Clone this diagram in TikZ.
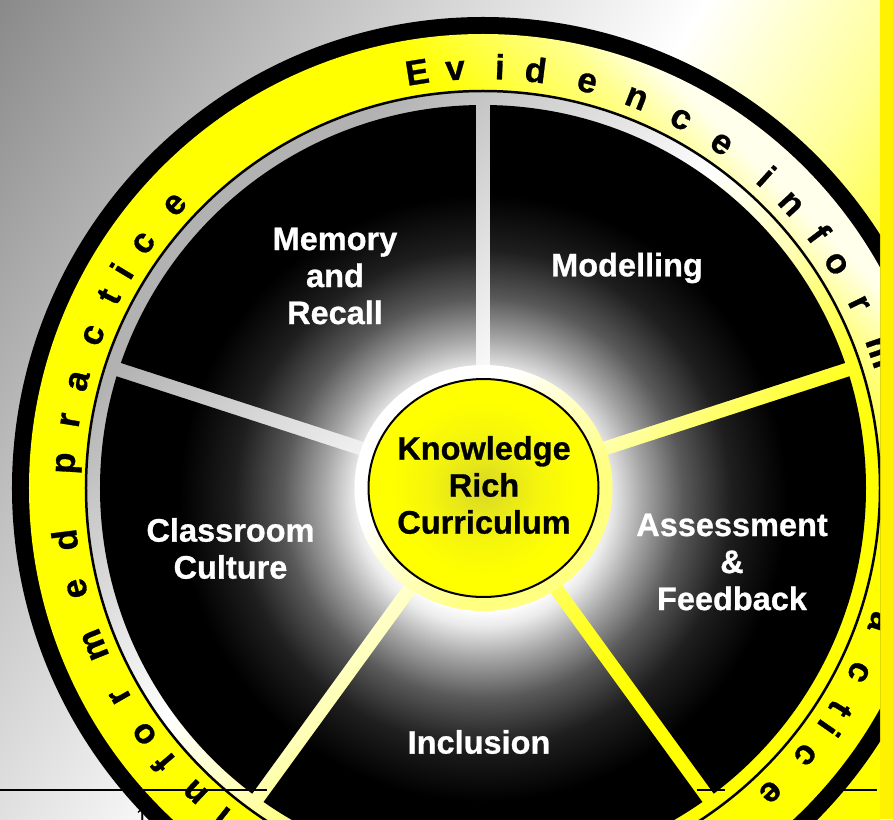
\documentclass[tikz,border=0pt]{standalone}
\usepackage{fontspec}
\setmainfont{Liberation Sans}
\newfontfamily\heavyfont{Liberation Sans Bold}[FakeBold=0.8]

% colour stops
\definecolor{bgA}{gray}{0.54}
\definecolor{bgB}{gray}{0.86}
\definecolor{paleY}{rgb}{1,1,0.6}
\definecolor{warmY}{rgb}{1,1,0.2}
\definecolor{rimA}{gray}{0.70}
\definecolor{rimB}{gray}{0.78}
\definecolor{rimC}{rgb}{1,1,0.7}
\definecolor{rimD}{rgb}{1,1,0.15}
\definecolor{bandA}{rgb}{1,1,0.55}
\definecolor{bandB}{rgb}{1,1,0.92}
\definecolor{glowA}{gray}{0.92}
\definecolor{glowB}{gray}{0.65}
\definecolor{glowC}{gray}{0.35}
\definecolor{glowD}{gray}{0.12}
\definecolor{hubA}{rgb}{0.85,0.85,0.15}
\definecolor{hubB}{rgb}{0.96,0.96,0.05}
\definecolor{hubrimY}{rgb}{1,1,0.5}

% linear shadings, laid along the x axis of a rotated canvas
\pgfdeclarehorizontalshading{bgshade}{100bp}{color(0bp)=(bgA); color(33.3bp)=(bgA); color(43.5bp)=(bgB); color(48.3bp)=(white); color(52.8bp)=(paleY); color(55.8bp)=(warmY); color(60bp)=(yellow); color(100bp)=(yellow)}
\pgfdeclarehorizontalshading{rimshade}{100bp}{color(0bp)=(rimA); color(35.8bp)=(rimA); color(38.8bp)=(rimB); color(47.5bp)=(white); color(52.1bp)=(rimC); color(57.1bp)=(rimD); color(60.4bp)=(yellow); color(100bp)=(yellow)}
\pgfdeclarehorizontalshading{bandshade}{100bp}{color(0bp)=(yellow); color(60.5bp)=(yellow); color(65.5bp)=(bandA); color(67.6bp)=(bandB); color(100bp)=(bandB)}
\pgfdeclarehorizontalshading{hubrimshade}{100bp}{color(0bp)=(white); color(40bp)=(white); color(62bp)=(hubrimY); color(100bp)=(hubrimY)}
% radial shadings
\pgfdeclareradialshading{glow}{\pgfpoint{0bp}{0bp}}{color(0bp)=(white); color(7bp)=(white); color(8bp)=(glowA); color(10bp)=(glowB); color(12.5bp)=(glowC); color(15.5bp)=(glowD); color(19bp)=(black); color(50bp)=(black)}
\pgfdeclareradialshading{hubfill}{\pgfpoint{0bp}{0bp}}{color(0bp)=(hubA); color(12bp)=(hubB); color(20bp)=(yellow); color(50bp)=(yellow)}

\begin{document}
\begin{tikzpicture}[x=1pt,y=1pt,
  ringletter/.style={anchor=base, inner sep=0pt, font=\fontsize{35}{35}\selectfont\heavyfont},
  sectorlabel/.style={align=center, text=white, inner sep=0pt, font=\fontsize{32.5}{37}\selectfont\heavyfont},
  hublabel/.style={align=center, text=black, inner sep=0pt, font=\fontsize{32.5}{37}\selectfont\heavyfont},
  footline/.style={line width=2pt, draw=black}]
\useasboundingbox (-483,-331) rectangle (410,488);

% page background
\begin{scope}
  \clip (-483,-331) rectangle (397,488);
  \begin{scope}[transform canvas={rotate=-32}]
    \shade[shading=bgshade] (-1000,-1000) rectangle (1000,1000);
  \end{scope}
\end{scope}
\fill[yellow] (397,-331) rectangle (410,488);

% the wheel
\begin{scope}
  \clip (-483,-331) rectangle (397,488);
  \fill[black] (0,0) circle (471);
  % lettered band
  \begin{scope}
    \clip (0,0) circle (454);
    \begin{scope}[transform canvas={rotate=45}]
      \shade[shading=bandshade] (-600,-600) rectangle (600,600);
    \end{scope}
  \end{scope}
  % rim and spokes
  \begin{scope}
    \clip (0,0) circle (396);
    \begin{scope}[transform canvas={rotate=-45}]
      \shade[shading=rimshade] (-600,-600) rectangle (600,600);
    \end{scope}
  \end{scope}
  \draw[black, line width=2.5pt] (0,0) circle (397);
  % five dark sectors with a glow towards the hub
  \foreach \a in {18,90,162,234,306} {
    \begin{scope}
      \clip (0,0) circle (383);
      \clip ({\a+36}:12) -- ({\a+0.67}:600) -- ({\a+36}:800) -- ({\a+71.33}:600) -- cycle;
      \shade[shading=glow] (0,-10) circle (400);
    \end{scope}
  }
  % hub
  \begin{scope}
    \clip (0.5,0) ellipse [x radius=129, y radius=123];
    \begin{scope}[transform canvas={rotate=-45}]
      \shade[shading=hubrimshade] (-150,-150) rectangle (150,150);
    \end{scope}
  \end{scope}
  \shadedraw[shading=hubfill, draw=black, line width=2pt] (0.5,0) ellipse [x radius=115, y radius=109];

  % lettering round the band
  \foreach \ch/\ang [count=\k] in {E/99.0, v/93.8, i/87.7, d/82.8, e/75.6, n/68.5, c/61.8, e/55.3,
      i/47.7, n/42.7, f/37.1, o/32.4, r/26.1, m/18.9,
      a/-18.7, c/-26.1, t/-31.7, i/-34.8, c/-39.6, e/-46.6,
      i/231.5, n/226.6, f/220.7, o/216.0, r/209.8, m/202.0, e/193.9, d/187.1,
      p/176.6, r/170.7, a/165.2, c/158.6, t/152.9, i/149.0, c/144.2, e/137.4}
    \node[ringletter, rotate=\ang-90] (ring\k) at (\ang:409) {\ch};
\end{scope}

% sector labels
\node[sectorlabel] (memory) at (-148,212) {Memory\\and\\Recall};
\node[sectorlabel] (modelling) at (144,220) {Modelling};
\node[sectorlabel] (classroom) at (-252.5,-60.5) {Classroom\\Culture};
\node[sectorlabel] (assessment) at (249,-74) {Assessment\\\&\\Feedback};
\node[sectorlabel] (inclusion) at (-4,-254) {Inclusion};
\node[hublabel] (hub) at (1,3) {Knowledge\\Rich\\Curriculum};

% footer rule and page number
\coordinate (footL0) at (-483,-302);
\coordinate (footL1) at (-216,-302);
\coordinate (footR0) at (214,-302);
\coordinate (footR1) at (242,-302);
\coordinate (footR2) at (357,-302);
\coordinate (footR3) at (394,-302);
\draw[footline] (footL0) -- (footL1);
\draw[footline] (footR0) -- (footR1);
\draw[footline] (footR2) -- (footR3);
\node[anchor=base, inner sep=0pt, font=\fontsize{22}{22}\selectfont] (pagenum) at (-341,-336) {1};
\end{tikzpicture}
\end{document}
